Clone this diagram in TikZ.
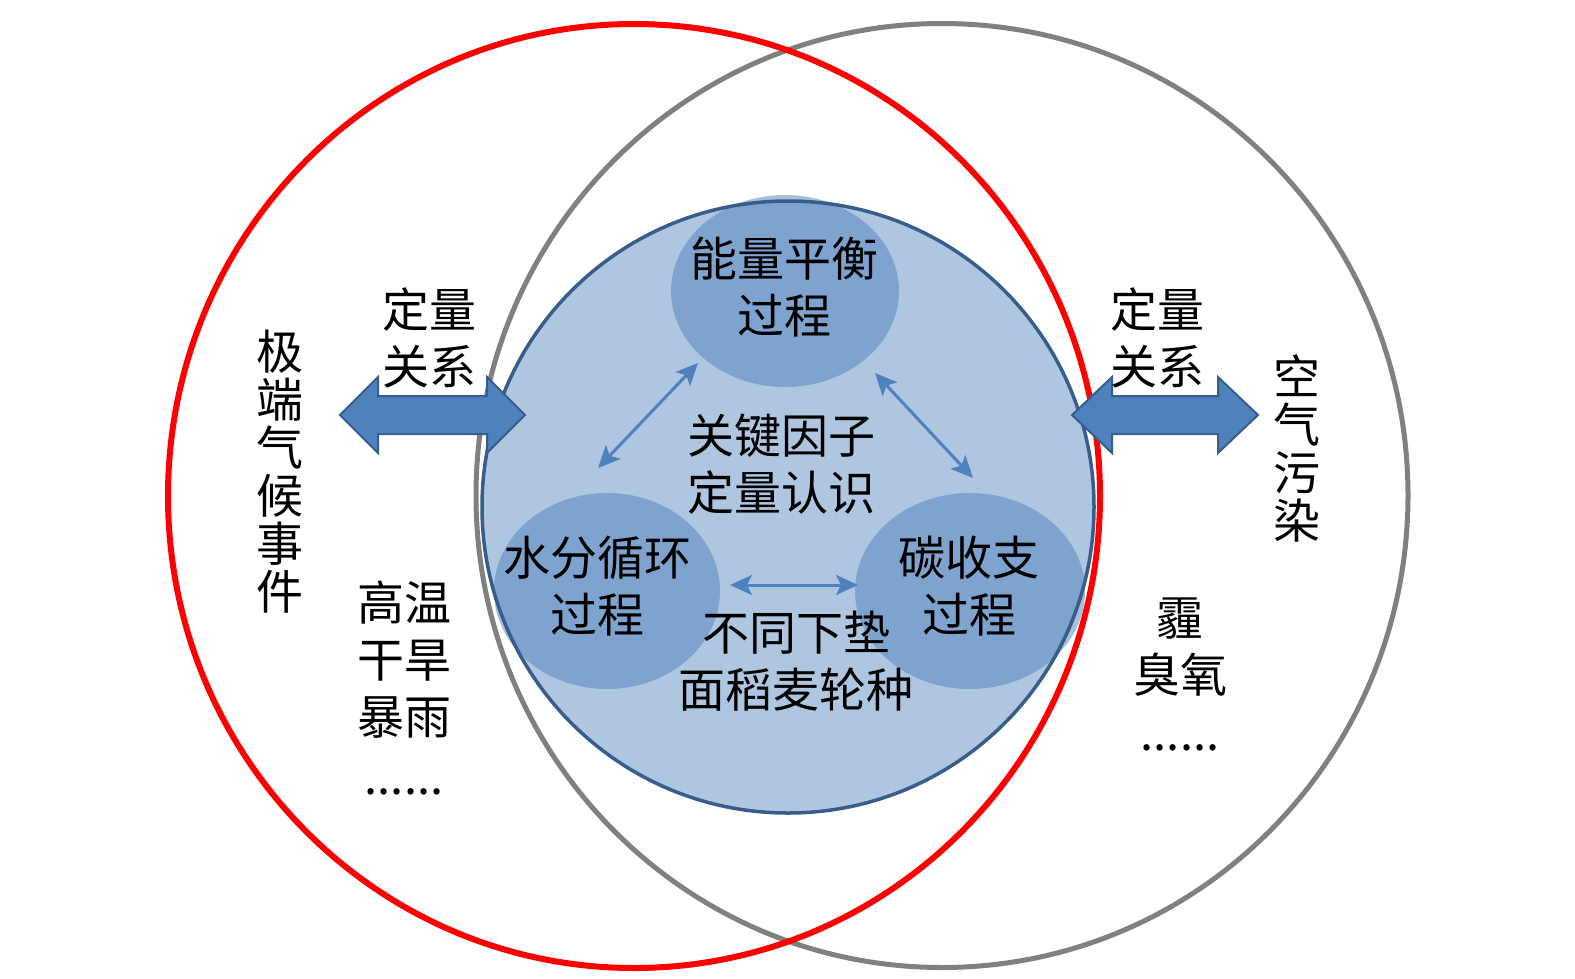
\documentclass[tikz,border=0pt]{standalone}
\usepackage{fontspec}
\newfontfamily\cjk{Noto Sans CJK SC}
\usetikzlibrary{arrows.meta}
\definecolor{accent}{HTML}{4F81BD}
\definecolor{outl}{HTML}{385D8A}
\definecolor{ringgray}{HTML}{808080}
\definecolor{ringred}{HTML}{FF0000}
\tikzset{
  lbl/.style={font=\cjk\fontsize{47}{57}\selectfont, align=center, inner sep=0pt, text=black},
  vlbl/.style={font=\cjk\fontsize{47}{48}\selectfont, align=center, inner sep=0pt, text=black},
  dotlbl/.style={font=\cjk\fontsize{47}{57}\selectfont, inner sep=0pt, text=black},
  bigarrow/.style={fill=accent, draw=outl, line width=2, line join=miter},
  smallarrow/.style={draw=accent, line width=3,
    arrows={Stealth[length=22pt,width=20pt,inset=5pt]-Stealth[length=22pt,width=20pt,inset=5pt]}},
  subproc/.style={fill=accent, fill opacity=0.5},
}
\begin{document}
\begin{tikzpicture}[x=1pt,y=-1pt]
\useasboundingbox (0,0) rectangle (1575,978);
\fill[white] (0,0) rectangle (1575,978);

% gray ring (air pollution)
\draw[ringgray, line width=5] (942,495.5) ellipse [x radius=466, y radius=472];

% central blue disc
\fill[accent, fill opacity=0.45] (788,507) circle [radius=306];
\fill[subproc] (785,291) ellipse [x radius=114, y radius=96];
\fill[subproc] (607,591) ellipse [x radius=113, y radius=98];
\fill[subproc] (970,591) ellipse [x radius=115, y radius=98];
\draw[outl, line width=3.5] (788,507) circle [radius=306];

% red ring (extreme climate)
\draw[ringred, line width=6] (634,496) ellipse [x radius=466, y radius=472];

% block double arrows
\draw[bigarrow] (340,415) -- (378,377) -- (378,396) -- (487,396) -- (487,377) -- (525,415)
  -- (487,453) -- (487,434) -- (378,434) -- (378,453) -- cycle;
\draw[bigarrow] (1072,415) -- (1112,377) -- (1112,396) -- (1218,396) -- (1218,377) -- (1258,415)
  -- (1218,453) -- (1218,434) -- (1112,434) -- (1112,453) -- cycle;

% small arrows between processes
\coordinate (a1) at (698,363);
\coordinate (a2) at (598,468);
\coordinate (b1) at (875,373);
\coordinate (b2) at (973,478);
\coordinate (c1) at (730,585);
\coordinate (c2) at (858,585);
\draw[smallarrow] (a1) -- (a2);
\draw[smallarrow] (b1) -- (b2);
\draw[smallarrow] (c1) -- (c2);

% texts
\node[lbl] (energy) at (784,287) {能量平衡\\过程};
\node[lbl] (key) at (781,464) {关键因子\\定量认识};
\node[lbl] (water) at (597,586) {水分循环\\过程};
\node[lbl] (carbon) at (969,586) {碳收支\\过程};
\node[lbl] (surface) at (796,661) {不同下垫\\面稻麦轮种};
\node[lbl] (qleft) at (429,338) {定量\\关系};
\node[lbl] (qright) at (1157,338) {定量\\关系};
\node[vlbl] (extreme) at (280,472) {极\\端\\气\\候\\事\\件};
\node[vlbl] (air) at (1297,448) {空\\气\\污\\染};
\node[lbl] (heat) at (404,660) {高温\\干旱\\暴雨};
\node[dotlbl] (dotsl) at (404,792) {......};
\node[lbl] (haze) at (1180,647) {霾\\臭氧};
\node[dotlbl] (dotsr) at (1180,748) {......};
\end{tikzpicture}
\end{document}
